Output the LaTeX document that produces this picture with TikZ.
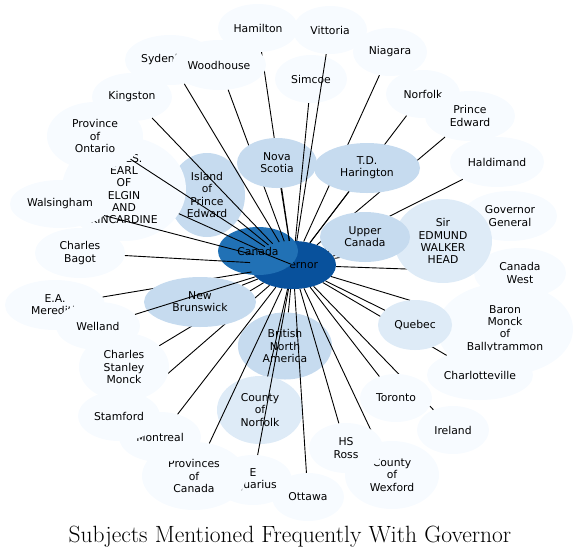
\documentclass[tikz,border=0pt]{standalone}
\usepackage{fontspec}
\usetikzlibrary{shapes.geometric}
\newfontfamily\nodefont{DejaVu Sans}
\definecolor{blues0}{HTML}{F7FBFF}
\definecolor{blues1}{HTML}{DEEBF7}
\definecolor{blues2}{HTML}{C6DBEF}
\definecolor{blues5}{HTML}{2171B5}
\definecolor{blues6}{HTML}{08519C}

\begin{document}
\begin{tikzpicture}[
    x=1pt,y=-1pt,
    bub/.style={ellipse,inner sep=0pt,align=center,
      font=\nodefont\fontsize{10.8}{12.2}\selectfont},
    pale/.style={bub,fill=blues0},
    soft/.style={bub,fill=blues1},
    mid/.style={bub,fill=blues2},
    sub/.style={bub,fill=blues5},
    hub/.style={bub,fill=blues6},
    sz/.style 2 args={minimum width=#1pt,minimum height=#2pt},
    link/.style={line width=0.9pt}
  ]
    \useasboundingbox (0,0) rectangle (580,558);

    \node[hub,sz={86}{48}] (gov) at (293,265) {Governor};
    \node[sub,sz={80}{48}] (canada) at (258,251) {Canada};
    \draw[link] (gov) -- (canada);

    % inner ring
    \node[mid,sz={94}{67}] (bna) at (285,346) {British\\North\\America};
    \draw[link] (gov) -- (bna);
    \node[soft,sz={86}{68}] (cnorfolk) at (260,410) {County\\of\\Norfolk};
    \draw[link] (gov) -- (cnorfolk);
    \node[mid,sz={76}{84}] (island) at (207,195) {Island\\of\\Prince\\Edward};
    \draw[link] (gov) -- (island);

    % top
    \node[pale,sz={80}{48}] (hamilton) at (258,28) {Hamilton};
    \draw[link] (gov) -- (hamilton);
    \node[pale,sz={90}{50}] (sydenham) at (170,60) {Sydenham};
    \draw[link] (gov) -- (sydenham);
    \node[pale,sz={94}{50}] (woodhouse) at (219,65) {Woodhouse};
    \draw[link] (gov) -- (woodhouse);
    \node[mid,sz={80}{50}] (novascotia) at (277,163) {Nova\\Scotia};
    \draw[link] (gov) -- (novascotia);
    \node[pale,sz={72}{48}] (simcoe) at (311,79) {Simcoe};
    \draw[link] (gov) -- (simcoe);
    \node[pale,sz={74}{48}] (vittoria) at (330,30) {Vittoria};
    \draw[link] (gov) -- (vittoria);
    \node[pale,sz={74}{48}] (niagara) at (390,52) {Niagara};
    \draw[link] (gov) -- (niagara);
    \node[pale,sz={74}{48}] (norfolk) at (423,94) {Norfolk};
    \draw[link] (gov) -- (norfolk);
    \node[pale,sz={90}{50}] (princeedward) at (470,116) {Prince\\Edward};
    \draw[link] (gov) -- (princeedward);
    \node[mid,sz={106}{50}] (harington) at (367,168) {T.D.\\Harington};
    \draw[link] (gov) -- (harington);

    % right
    \node[pale,sz={92}{50}] (canadawest) at (520,273) {Canada\\West};
    \draw[link] (gov) -- (canadawest);
    \node[pale,sz={94}{50}] (govgeneral) at (510,216) {Governor\\General};
    \draw[link] (gov) -- (govgeneral);
    \node[soft,sz={98}{84}] (head) at (443,241) {Sir\\EDMUND\\WALKER\\HEAD};
    \draw[link] (gov) -- (head);
    \node[pale,sz={94}{50}] (haldimand) at (497,162) {Haldimand};
    \draw[link] (gov) -- (haldimand);
    \node[mid,sz={90}{50}] (upper) at (365,237) {Upper\\Canada};
    \draw[link] (gov) -- (upper);
    \node[pale,sz={136}{92}] (baron) at (505,329) {Baron\\Monck\\of\\Ballytrammon};
    \draw[link] (gov) -- (baron);
    \node[pale,sz={106}{50}] (charlotteville) at (480,375) {Charlotteville};
    \draw[link] (gov) -- (charlotteville);
    \node[soft,sz={74}{50}] (quebec) at (415,325) {Quebec};
    \draw[link] (gov) -- (quebec);

    % bottom
    \node[pale,sz={72}{48}] (ireland) at (453,430) {Ireland};
    \draw[link] (gov) -- (ireland);
    \node[pale,sz={72}{48}] (toronto) at (396,398) {Toronto};
    \draw[link] (gov) -- (toronto);
    \node[pale,sz={94}{68}] (wexford) at (392,475) {County\\of\\Wexford};
    \draw[link] (gov) -- (wexford);
    \node[pale,sz={74}{50}] (hsross) at (346,448) {HS\\Ross};
    \draw[link] (gov) -- (hsross);
    \node[pale,sz={72}{48}] (ottawa) at (308,497) {Ottawa};
    \draw[link] (gov) -- (ottawa);
    \node[pale,sz={78}{50}] (aquarius) at (253,480) {E\\Aquarius};
    \draw[link] (gov) -- (aquarius);
    \node[pale,sz={104}{68}] (provinces) at (194,476) {Provinces\\of\\Canada};
    \draw[link] (gov) -- (provinces);
    \node[pale,sz={82}{50}] (montreal) at (160,437) {Montreal};
    \draw[link] (gov) -- (montreal);
    \node[pale,sz={82}{50}] (stamford) at (119,416) {Stamford};
    \draw[link] (gov) -- (stamford);
    \node[pale,sz={90}{68}] (monck) at (124,367) {Charles\\Stanley\\Monck};
    \draw[link] (gov) -- (monck);

    % left
    \node[pale,sz={100}{50}] (meredith) at (55,305) {E.A.\\Meredith};
    \draw[link] (gov) -- (meredith);
    \node[mid,sz={112}{50}] (brunswick) at (200,302) {New\\Brunswick};
    \draw[link] (gov) -- (brunswick);
    \node[pale,sz={84}{48}] (welland) at (98,326) {Welland};
    \draw[link] (gov) -- (welland);
    \node[pale,sz={90}{50}] (bagot) at (80,253) {Charles\\Bagot};
    \draw[link] (gov) -- (bagot);
    \node[pale,sz={80}{48}] (kingston) at (132,97) {Kingston};
    \draw[link] (gov) -- (kingston);
    \node[pale,sz={124}{104}] (elgin) at (124,189) {JAMES.\\EARL\\OF\\ELGIN\\AND\\KINCARDINE};
    \draw[link] (gov) -- (elgin);
    \node[pale,sz={100}{48}] (walsingham) at (60,204) {Walsingham};
    \draw[link] (gov) -- (walsingham);
    \node[pale,sz={96}{68}] (ontario) at (95,136) {Province\\of\\Ontario};
    \draw[link] (gov) -- (ontario);

    \node[font=\fontsize{23.5}{26}\selectfont] (title) at (290,537)
      {Subjects Mentioned Frequently With Governor};
  \end{tikzpicture}
\end{document}
